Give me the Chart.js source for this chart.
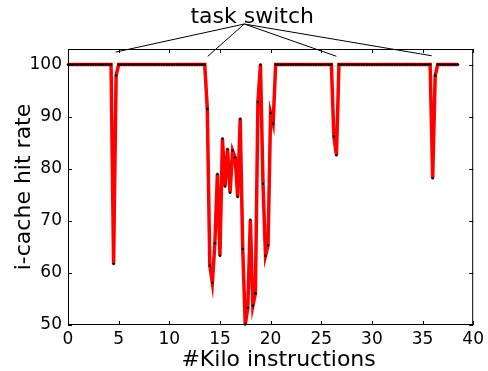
<!DOCTYPE html>
<html>
<head>
<meta charset="utf-8">
<script src="https://cdn.jsdelivr.net/npm/chart.js@4"></script>
<style>
  body { margin: 0; background: #fff; }
  #wrap { width: 488px; height: 371px; }
</style>
</head>
<body>
<div id="wrap"><canvas id="chart" width="488" height="371"></canvas></div>
<script>
// sample spacing on the x axis (kilo instructions)
const xStep = 0.25;

// i-cache hit rate, one value per 0.25 kilo instructions (0 .. 38.5)
const hitRate = [
  100, 100, 100, 100, 100, 100, 100, 100, 100, 100, // 0 - 2.25
  100, 100, 100, 100, 100, 100, 100, 100, 61.7, 97.9, // 2.5 - 4.75
  100, 100, 100, 100, 100, 100, 100, 100, 100, 100, // 5 - 7.25
  100, 100, 100, 100, 100, 100, 100, 100, 100, 100, // 7.5 - 9.75
  100, 100, 100, 100, 100, 100, 100, 100, 100, 100, // 10 - 12.25
  100, 100, 100, 100, 100, 91.5, 61.4, 58.1, 65.7, 79.0, // 12.5 - 14.75
  63.3, 85.8, 76.6, 83.8, 75.4, 83.5, 82.2, 74.6, 89.6, 64.6, // 15 - 17.25
  50.1, 53.3, 70.2, 53.7, 56.1, 92.8, 100, 77.1, 63.3, 65.3, // 17.5 - 19.75
  90.7, 88.7, 100, 100, 100, 100, 100, 100, 100, 100, // 20 - 22.25
  100, 100, 100, 100, 100, 100, 100, 100, 100, 100, // 22.5 - 24.75
  100, 100, 100, 100, 100, 86.2, 82.6, 100, 100, 100, // 25 - 27.25
  100, 100, 100, 100, 100, 100, 100, 100, 100, 100, // 27.5 - 29.75
  100, 100, 100, 100, 100, 100, 100, 100, 100, 100, // 30 - 32.25
  100, 100, 100, 100, 100, 100, 100, 100, 100, 100, // 32.5 - 34.75
  100, 100, 100, 100, 78.2, 97.9, 100, 100, 100, 100, // 35 - 37.25
  100, 100, 100, 100, 100                             // 37.5 - 38.5
];

const xTicks = [0, 5, 10, 15, 20, 25, 30, 35, 40];
const yTicks = [50, 60, 70, 80, 90, 100];

const xTitle = "#Kilo instructions";
const yTitle = "i-cache hit rate";

// "task switch" annotation: label anchor and the four arrow ends (data units)
const switchLabel = "task switch";
const switchAnchor = [17.4, 107.8];
const switchX = [4.7, 13.8, 26.5, 35.9];
const switchY = [102.4, 101.6, 101.6, 101.7];

const FONT = "'DejaVu Sans', sans-serif";

const frame = {
  id: "frame",
  afterDraw(chart) {
    const { ctx, chartArea: a, scales } = chart;
    const xs = scales.x, ys = scales.y;
    ctx.save();
    ctx.strokeStyle = "#000";
    ctx.lineWidth = 1;
    ctx.strokeRect(a.left + 0.5, a.top + 0.5, a.right - a.left - 1, a.bottom - a.top - 1);
    ctx.beginPath();
    xTicks.forEach(v => {
      const px = Math.round(xs.getPixelForValue(v)) + 0.5;
      ctx.moveTo(px, a.bottom); ctx.lineTo(px, a.bottom - 4);
      ctx.moveTo(px, a.top); ctx.lineTo(px, a.top + 4);
    });
    yTicks.forEach(v => {
      const py = Math.round(ys.getPixelForValue(v)) + 0.5;
      ctx.moveTo(a.left, py); ctx.lineTo(a.left + 4, py);
      ctx.moveTo(a.right, py); ctx.lineTo(a.right - 4, py);
    });
    ctx.stroke();

    // x axis title (slightly right of centre, as in the original)
    ctx.fillStyle = "#000";
    ctx.font = "22px " + FONT;
    ctx.textAlign = "center";
    ctx.textBaseline = "alphabetic";
    ctx.fillText(xTitle, (a.left + a.right) / 2 + 8, 366);

    // annotation
    const ax = xs.getPixelForValue(switchAnchor[0]);
    const ay = ys.getPixelForValue(switchAnchor[1]);
    ctx.beginPath();
    switchX.forEach((v, i) => {
      ctx.moveTo(ax, ay);
      ctx.lineTo(xs.getPixelForValue(v), ys.getPixelForValue(switchY[i]));
    });
    ctx.stroke();
    ctx.fillText(switchLabel, ax + 8, ay - 1);
    ctx.restore();
  }
};

new Chart(document.getElementById("chart"), {
  type: "line",
  data: {
    datasets: [{
      data: hitRate.map((v, i) => ({ x: i * xStep, y: v })),
      borderColor: "#ff0000",
      borderWidth: 3.5,
      tension: 0,
      pointRadius: 1.3,
      pointBackgroundColor: "#000",
      pointBorderWidth: 0,
      clip: false
    }]
  },
  options: {
    responsive: false,
    animation: false,
    layout: { padding: { left: 0, top: 49, right: 10, bottom: 0 } },
    plugins: { legend: { display: false }, tooltip: { enabled: false } },
    scales: {
      x: {
        type: "linear",
        min: 0,
        max: 40,
        grid: { display: false, drawTicks: false },
        border: { display: false },
        afterBuildTicks: s => { s.ticks = xTicks.map(v => ({ value: v })); },
        afterFit: s => { s.height = 46; },
        ticks: { color: "#000", font: { family: FONT, size: 17 }, padding: 4, maxRotation: 0 }
      },
      y: {
        min: 50,
        max: 103,
        grid: { display: false, drawTicks: false },
        border: { display: false },
        afterBuildTicks: s => { s.ticks = yTicks.map(v => ({ value: v })); },
        afterFit: s => { s.width = 68; },
        ticks: { color: "#000", font: { family: FONT, size: 17 }, padding: 6 },
        title: { display: true, text: yTitle, color: "#000",
                 font: { family: FONT, size: 22 }, padding: { top: 11, bottom: 0 } }
      }
    }
  },
  plugins: [frame]
});
</script>
</body>
</html>
